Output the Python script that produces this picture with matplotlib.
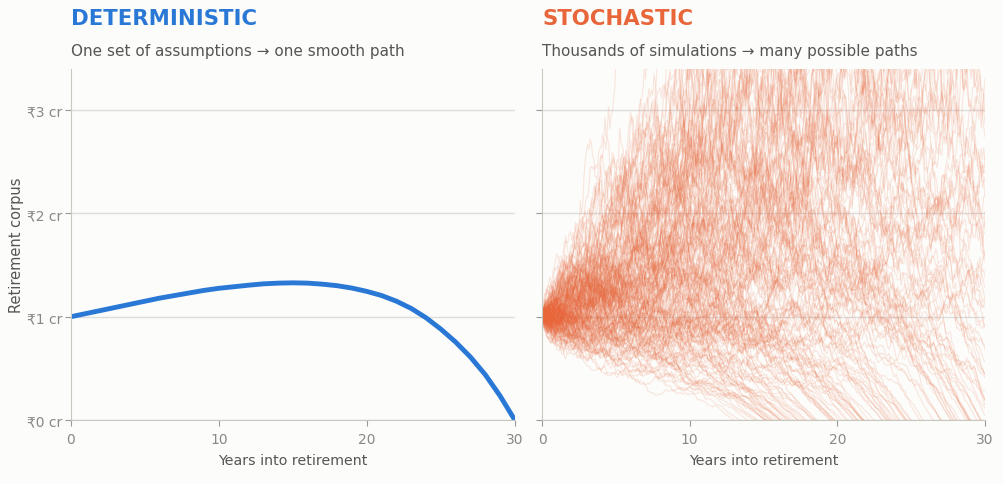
import matplotlib
matplotlib.use("Agg")
import matplotlib.pyplot as plt
import numpy as np

# ---- deterministic path (crore, one value per year) ----
years = list(range(0, 31))
corpus_det = [1.00, 1.03, 1.06, 1.09, 1.12, 1.15, 1.18, 1.205, 1.23, 1.255,
              1.275, 1.29, 1.305, 1.318, 1.325, 1.328, 1.325, 1.315, 1.30, 1.277,
              1.245, 1.205, 1.15, 1.08, 0.99, 0.88, 0.755, 0.61, 0.44, 0.235, 0.0]

# ---- stochastic panel: monte carlo settings (the chart shows simulated paths) ----
n_paths = 200
n_months = 360
start_corpus = 1.0
mean_return = 0.10
volatility = 0.15
first_withdrawal = 0.05
inflation = 0.06
seed = 11

y_ticks = [0, 1, 2, 3]
y_ticklabels = ["₹0 cr", "₹1 cr", "₹2 cr", "₹3 cr"]
x_ticks = [0, 10, 20, 30]

BLUE = "#2a78d6"
ORANGE = "#e8663a"
BG = "#fcfcfa"

# simulate monthly paths
rng = np.random.default_rng(seed)
mu_m = mean_return / 12
sd_m = volatility / np.sqrt(12)
paths = np.full((n_paths, n_months + 1), np.nan)
paths[:, 0] = start_corpus
for p in range(n_paths):
    c = start_corpus
    for m in range(1, n_months + 1):
        wd = first_withdrawal / 12 * (1 + inflation) ** (m / 12)
        c = c * (1 + rng.normal(mu_m, sd_m)) - wd
        if c <= 0:
            paths[p, m] = 0.0
            break
        paths[p, m] = c
t_months = np.arange(n_months + 1) / 12

fig = plt.figure(figsize=(10.04, 4.85), dpi=100, facecolor=BG)
ax1 = fig.add_axes([0.0707, 0.132, 0.442, 0.724])
ax2 = fig.add_axes([0.540, 0.132, 0.441, 0.724])

for ax in (ax1, ax2):
    ax.set_facecolor(BG)
    ax.set_xlim(0, 30)
    ax.set_ylim(0, 3.4)
    ax.set_xticks(x_ticks)
    ax.set_yticks(y_ticks)
    ax.grid(axis="y", color="#dddddd", linewidth=1)
    ax.set_axisbelow(True)
    for s in ("top", "right"):
        ax.spines[s].set_visible(False)
    for s in ("left", "bottom"):
        ax.spines[s].set_color("#c8c8c0")
    ax.tick_params(colors="#999999", labelcolor="#888888", labelsize=10, length=4)
    ax.tick_params(axis="y", pad=2.5)
    ax.tick_params(axis="x", pad=5)
    ax.set_xlabel("Years into retirement", fontsize=10.2, color="#555555", labelpad=5)

ax1.set_yticklabels(y_ticklabels)
ax2.set_yticklabels([])
ax1.set_ylabel("Retirement corpus", fontsize=10.5, color="#555555", labelpad=1.5)

ax1.plot(years, corpus_det, color=BLUE, linewidth=3.5, solid_capstyle="round")

for p in range(n_paths):
    ax2.plot(t_months, paths[p], color=ORANGE, alpha=0.15, linewidth=0.8)

fig.text(0.0707, 0.960, "DETERMINISTIC", color=BLUE, fontsize=15.3, fontweight="bold", va="center")
fig.text(0.0707, 0.893, "One set of assumptions → one smooth path", color="#555555", fontsize=11, va="center")
fig.text(0.540, 0.960, "STOCHASTIC", color=ORANGE, fontsize=15.3, fontweight="bold", va="center")
fig.text(0.540, 0.893, "Thousands of simulations → many possible paths", color="#555555", fontsize=11, va="center")

fig.savefig("out.png", dpi=100, facecolor=BG)
